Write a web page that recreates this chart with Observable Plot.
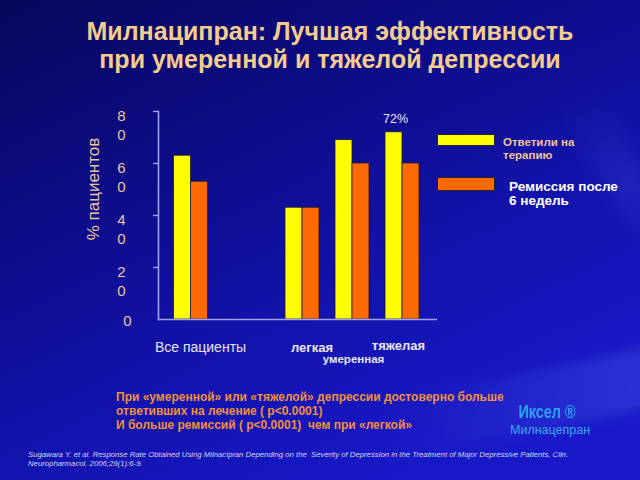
<!DOCTYPE html>
<html>
<head>
<meta charset="utf-8">
<script src="https://cdn.jsdelivr.net/npm/d3@7"></script>
<script src="https://cdn.jsdelivr.net/npm/@observablehq/plot@0.6"></script>
<style>
  html, body { margin: 0; padding: 0; }
  body { width: 640px; height: 480px; overflow: hidden; font-family: "Liberation Sans", Arial, sans-serif; }
  #slide {
    position: relative; width: 640px; height: 480px; overflow: hidden;
    background: linear-gradient(155deg, #07075a 0%, #0b0b80 25%, #1212a8 55%, #1717c4 80%, #1a1acc 100%);
  }
  .swoosh { position: absolute; pointer-events: none; }
  #chart { position: absolute; left: 0; top: 0; width: 640px; height: 480px; }
  #chart svg { max-width: none !important; }
  .t { position: absolute; white-space: nowrap; }
  #title { left: 0; width: 660px; top: 17px; text-align: center; color: #f5cc8c; font-weight: bold; font-size: 25px; line-height: 28px; }
  .leg { position: absolute; left: 437px; width: 58px; border: 1px solid #222; box-sizing: border-box; }
  #note { left: 116px; top: 390px; color: #f0903a; font-weight: bold; font-size: 12px; line-height: 14px; }
  #logo1 { left: 505px; top: 402px; width: 84px; text-align: center; color: #2ea4f2; font-weight: bold; font-size: 18px; transform: scaleX(0.8); }
  #logo2 { left: 510px; top: 423px; width: 80px; text-align: center; color: #3aa8f0; font-size: 12.5px; }
  #foot { left: 28px; top: 450px; color: #d4d4ec; font-style: italic; font-size: 7.75px; line-height: 9px; }
</style>
</head>
<body>
<div id="slide">
  <div class="swoosh" style="left:380px; top:360px; width:420px; height:60px; transform: rotate(-12deg); background: linear-gradient(90deg, rgba(120,140,255,0) 0%, rgba(120,140,255,0.2) 60%, rgba(160,180,255,0.06) 100%); filter: blur(6px);"></div>
  <div class="swoosh" style="left:540px; top:150px; width:160px; height:40px; transform: rotate(60deg); background: linear-gradient(90deg, rgba(120,140,255,0) 0%, rgba(120,140,255,0.12) 60%, rgba(120,140,255,0) 100%); filter: blur(8px);"></div>
  <div id="chart"></div>
  <div class="t" id="title">Милнаципран: Лучшая эффективность<br>при умеренной и тяжелой депрессии</div>
  <div class="leg" id="leg1" style="top:134px; height:12px; background:#ffff00;"></div>
  <div class="leg" id="leg2" style="top:177px; height:14px; background:#ff6a00;"></div>
  <div class="t" style="left:503px; top:136px; color:#f2c494; font-weight:bold; font-size:11.5px; line-height:13px;">Ответили на<br>терапию</div>
  <div class="t" style="left:509px; top:180px; color:#ffffff; font-weight:bold; font-size:13.5px; line-height:14px;">Ремиссия после<br>6 недель</div>
  <div class="t" id="note">При «умеренной» или «тяжелой» депрессии достоверно больше<br>ответивших на лечение ( p&lt;0.0001)<br>И больше ремиссий ( p&lt;0.0001)&nbsp; чем при «легкой»</div>
  <div class="t" id="logo1">Иксел ®</div>
  <div class="t" id="logo2">Милнацепран</div>
  <div class="t" id="foot">Sugawara Y. et al. Response Rate Obtained Using Milnacipran Depending on the&nbsp; Severity of Depression in the Treatment of Major Depressive Patients. Clin.<br>Neuropharmacol. 2006;29(1):6-9.</div>
</div>
<script>
const categories = ["Все пациенты", "легкая", "умеренная", "тяжелая"];
const responders = [63, 43, 69, 72];
const remission = [53, 43, 60, 60];
const yTicks = [20, 40, 60, 80];
const seriesNames = ["Ответили на терапию", "Ремиссия после 6 недель"];

const rows = categories.map((c, i) => ({cat: c, resp: responders[i], rem: remission[i]}));
const spacer = " ";
const xDomain = [categories[0], spacer, ...categories.slice(1)];
const firstGroup = rows.slice(0, 1);
const otherGroups = rows.slice(1);

const axisColor = "#9ea4f2";
const peach = "#eec49a";
const light = "#e6e6f2";

const barStyle = {stroke: "#1a1a2a", strokeWidth: 0.8};

const chart = Plot.plot({
  width: 640,
  height: 480,
  marginTop: 111,
  marginBottom: 161,
  marginLeft: 158,
  marginRight: 203,
  style: {background: "transparent", fontFamily: "Liberation Sans, Arial, sans-serif", maxWidth: "none"},
  x: {domain: xDomain, paddingInner: 0.32, paddingOuter: 0.45, align: 0.607, axis: null},
  y: {domain: [0, 80], axis: null},
  marks: [
    Plot.barY(firstGroup, {x: "cat", y: "resp", fill: "#ffff00", ...barStyle, insetRight: 17, dx: -11.5, title: () => seriesNames[0]}),
    Plot.barY(firstGroup, {x: "cat", y: "rem", fill: "#ff6a00", ...barStyle, insetLeft: 17, dx: -11.5, title: () => seriesNames[1]}),
    Plot.barY(otherGroups, {x: "cat", y: "resp", fill: "#ffff00", ...barStyle, insetRight: 17, title: () => seriesNames[0]}),
    Plot.barY(otherGroups, {x: "cat", y: "rem", fill: "#ff6a00", ...barStyle, insetLeft: 17, title: () => seriesNames[1]}),
    Plot.ruleY([0], {stroke: axisColor, strokeWidth: 1.6}),
    Plot.frame({anchor: "left", stroke: axisColor, strokeWidth: 1.6}),
    Plot.axisY({ticks: yTicks, tickSize: 5, tickFormat: () => "", stroke: axisColor, strokeWidth: 1.4, label: null}),
    Plot.axisY({ticks: yTicks, tickSize: 0, tickPadding: 37, textAnchor: "middle",
      tickFormat: d => String(d).split("").join("\n"), lineAnchor: "top", lineHeight: 1.3, dy: -4.5,
      fontSize: 15, fill: peach, label: null}),
    Plot.axisY({ticks: [0], tickSize: 0, tickPadding: 31, textAnchor: "middle", fontSize: 15, fill: peach, label: null, dy: 2}),
    Plot.text(["% пациентов"], {frameAnchor: "left", textAnchor: "middle", lineAnchor: "middle", rotate: -90, dx: -64.5, dy: -26.5, fontSize: 17, fill: peach}),
    Plot.text([categories[0]], {x: d => d, frameAnchor: "bottom", lineAnchor: "middle", dy: 28, dx: -2, fontSize: 14, fill: light}),
    Plot.text([categories[1]], {x: d => d, frameAnchor: "bottom", lineAnchor: "middle", dy: 28, dx: 9.5, fontSize: 13, fontWeight: "bold", fill: light}),
    Plot.text([categories[3]], {x: d => d, frameAnchor: "bottom", lineAnchor: "middle", dy: 26, dx: -4, fontSize: 13, fontWeight: "bold", fill: light}),
    Plot.text([categories[2]], {x: d => d, frameAnchor: "bottom", lineAnchor: "middle", dy: 40, dx: 1, fontSize: 11.5, fontWeight: "bold", fill: light}),
    Plot.text(rows.filter(d => d.cat === "тяжелая"), {x: "cat", y: "resp", text: d => d.resp + "%", dx: -7, dy: -13, fontSize: 12.5, fill: light})
  ]
});
chart.style.position = "absolute";
chart.style.left = "0px";
chart.style.top = "0px";
chart.style.maxWidth = "none";
document.getElementById("chart").appendChild(chart);
</script>
</body>
</html>
